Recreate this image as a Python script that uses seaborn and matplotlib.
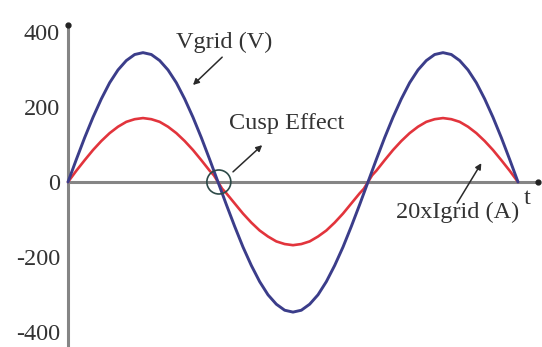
import matplotlib
matplotlib.use("Agg")
import matplotlib.pyplot as plt
from matplotlib.patches import Ellipse
import seaborn as sns

# Phase angle (degrees) over one and a half grid cycles
theta_v = list(range(0, 541, 10))
# Grid voltage (V)
vgrid = [0, 60, 118, 172, 221, 264, 298, 323, 339, 344,
         339, 323, 298, 264, 221, 172, 118, 60, 0,
         -60, -118, -173, -222, -265, -300, -325, -341, -346,
         -341, -325, -300, -265, -222, -173, -118, -60, 0,
         60, 118, 172, 221, 264, 298, 323, 339, 344,
         339, 323, 298, 264, 221, 172, 118, 60, 0]

# Grid current scaled by 20, steepening into each zero crossing (cusp)
theta_i = [0, 10, 20, 30, 40, 50, 60, 70, 80, 90, 100, 110, 120, 130, 140, 150, 160,
           170, 175, 180, 185, 190,
           200, 210, 220, 230, 240, 250, 260, 270, 280, 290, 300, 310, 320, 330, 340,
           350, 355, 360, 365, 370,
           380, 390, 400, 410, 420, 430, 440, 450, 460, 470, 480, 490, 500, 510, 520, 530, 540]
igrid20 = [0, 30, 58, 85, 109, 130, 147, 160, 167, 170, 167, 160, 147, 130, 109, 85, 58,
           30, 18, 0, -18, -30,
           -57, -84, -108, -129, -145, -158, -165, -168, -165, -158, -145, -129, -108, -84, -57,
           -30, -18, 0, 18, 30,
           58, 85, 109, 130, 147, 160, 167, 170, 167, 160, 147, 130, 109, 85, 58, 30, 0]

y_ticks = [-400, -200, 0, 200, 400]
y_tick_labels = ["-400", "-200", "0", "200", "400"]

sns.set_style("white")
plt.rcParams["font.family"] = ["Liberation Serif", "DejaVu Serif"]

TXT = "#333333"
AXC = "#858585"
BLUE = "#3b3d8a"
RED = "#e2343c"
FS = 17.5

fig = plt.figure(figsize=(5.42, 3.47), dpi=100)
ax = fig.add_axes([0, 0, 1, 1])

sns.lineplot(x=theta_i, y=igrid20, ax=ax, color=RED, lw=1.9, zorder=3)
sns.lineplot(x=theta_v, y=vgrid, ax=ax, color=BLUE, lw=2.1, zorder=4)

x_lo, x_hi = -81.6, 568.8
y_lo, y_hi = -438.8, 484.0
ax.set_xlim(x_lo, x_hi)
ax.set_ylim(y_lo, y_hi)

# Axes drawn through the origin, ending in small dots
y_top, x_end = 417.6, 564.0
for side in ("top", "right"):
    ax.spines[side].set_visible(False)
ax.spines["left"].set_position(("data", 0))
ax.spines["bottom"].set_position(("data", 0))
ax.spines["left"].set_bounds(y_lo, y_top)
ax.spines["bottom"].set_bounds(0, x_end)
for side in ("left", "bottom"):
    ax.spines[side].set_color(AXC)
    ax.spines[side].set_linewidth(2.2)
    ax.spines[side].set_zorder(2)
ax.plot([0], [y_top], "o", color="#222222", ms=3.5, clip_on=False, zorder=5)
ax.plot([x_end], [0], "o", color="#222222", ms=3.5, clip_on=False, zorder=5)

ax.set_xticks([])
ax.set_yticks(y_ticks)
ax.set_yticklabels(y_tick_labels)
ax.tick_params(axis="y", length=0, pad=5.8, labelsize=FS, labelcolor=TXT)
ax.set_xlabel("")
ax.set_ylabel("")

arrow = dict(arrowstyle="-|>,head_length=0.35,head_width=0.18", color="#2a2a2a",
             lw=1.1, shrinkA=0, shrinkB=0)

ax.text(187, 372, "Vgrid (V)", ha="center", va="center", fontsize=FS, color=TXT)
ax.annotate("", xy=(150, 258), xytext=(185, 332), arrowprops=arrow)

ax.text(263, 155, "Cusp Effect", ha="center", va="center", fontsize=FS, color=TXT)
ax.annotate("", xy=(233, 98), xytext=(198, 27), arrowprops=arrow)
ax.add_patch(Ellipse((181, 0), width=28.8, height=63.8, fill=False,
                     edgecolor="#2d4a48", lw=1.2, zorder=6))

ax.text(467, -81, "20xIgrid (A)", ha="center", va="center", fontsize=FS, color=TXT)
ax.annotate("", xy=(496, 50), xytext=(467, -56), arrowprops=arrow)

ax.text(551, -45, "t", ha="center", va="center", fontsize=FS, color=TXT)

fig.savefig("out.png", dpi=100)
